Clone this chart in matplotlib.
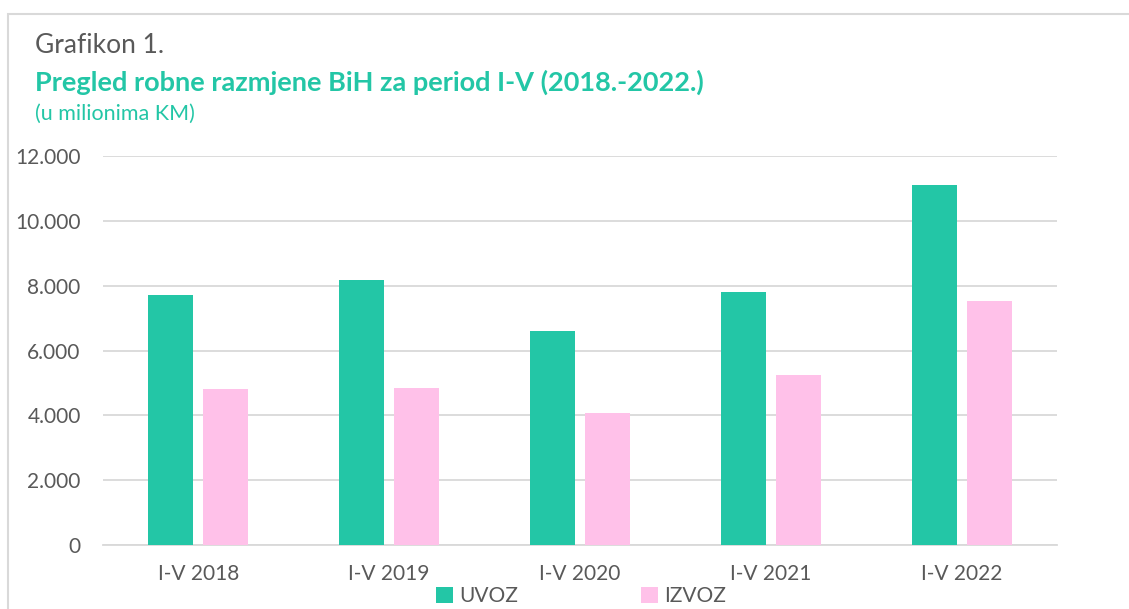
import matplotlib.pyplot as plt
import numpy as np
from matplotlib.patches import Rectangle
from matplotlib.ticker import FuncFormatter

# Data
periods = ["I-V 2018", "I-V 2019", "I-V 2020", "I-V 2021", "I-V 2022"]
uvoz = [7700, 8180, 6600, 7810, 11120]
izvoz = [4810, 4850, 4070, 5250, 7530]
series_names = ["UVOZ", "IZVOZ"]

teal = "#23C6A6"
pink = "#FFC1E9"
grey_text = "#595959"
grid_col = "#D9D9D9"

plt.rcParams["font.family"] = ["Lato", "DejaVu Sans"]

fig = plt.figure(figsize=(11.29, 6.09), dpi=100)
ax = fig.add_axes([0.0912, 0.1051, 0.8450, 0.6387])

x = np.arange(len(periods))
width = 0.236
off = 0.144
b1 = ax.bar(x - off, uvoz, width, color=teal, label=series_names[0], zorder=3)
b2 = ax.bar(x + off, izvoz, width, color=pink, label=series_names[1], zorder=3)

ax.set_xlim(-0.5, len(periods) - 0.5)
ax.set_ylim(0, 12000)
ax.set_yticks(np.arange(0, 12001, 2000))
ax.yaxis.set_major_formatter(FuncFormatter(lambda v, p: f"{int(v):,}".replace(",", ".")))
ax.set_xticks(x)
ax.set_xticklabels(periods)
ax.tick_params(axis="both", length=0, labelsize=15, labelcolor=grey_text)
ax.tick_params(axis="y", pad=16)
ax.tick_params(axis="x", pad=14)

ax.grid(axis="y", color=grid_col, linewidth=1.3, zorder=0)
for s in ["top", "right", "left"]:
    ax.spines[s].set_visible(False)
ax.spines["bottom"].set_color(grid_col)
ax.spines["bottom"].set_linewidth(1.3)

# Outer chart border
fig.patches.append(Rectangle((8 / 1129, -0.1), 1.2, (609 - 14) / 609 + 0.1,
                             transform=fig.transFigure, fill=False,
                             edgecolor=grid_col, linewidth=1.5))

# Titles
fig.text(35 / 1129, 1 - 53 / 609, "Grafikon 1.", fontsize=19, color=grey_text, va="baseline")
fig.text(35 / 1129, 1 - 91 / 609, "Pregled robne razmjene BiH za period I-V (2018.-2022.)",
         fontsize=19.5, fontweight="bold", color=teal, va="baseline")
fig.text(35 / 1129, 1 - 120 / 609, "(u milionima KM)", fontsize=15.5, color=teal, va="baseline")

fig.legend(handles=[b1, b2], loc="center", bbox_to_anchor=(581 / 1129, 1 - 596 / 609),
           ncol=2, frameon=False, fontsize=15, labelcolor=grey_text,
           handlelength=0.8, handleheight=0.8, handletextpad=0.3, columnspacing=5.9,
           borderpad=0)

fig.savefig("out.png", dpi=100)
